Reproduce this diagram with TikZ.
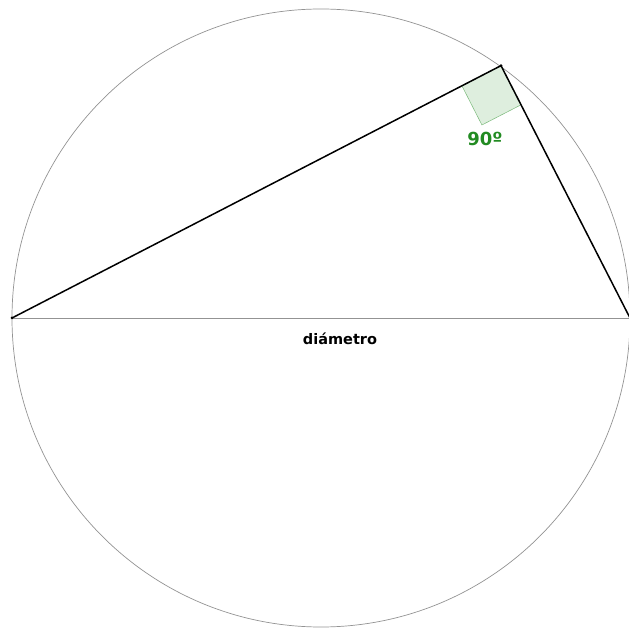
\documentclass[tikz,border=0pt]{standalone}
\usepackage{fontspec}
\setmainfont{DejaVu Sans}
\usetikzlibrary{calc}

\definecolor{anglegreen}{RGB}{34,139,34}

\begin{document}
\begin{tikzpicture}[x=1pt, y=1pt,
    thinline/.style={gray!85, line width=0.7pt},
    chord/.style={black, line width=1.5pt},
    labeltext/.style={font=\bfseries\fontsize{14.5}{17}\selectfont}]
        \useasboundingbox (0,0) rectangle (629,630);

        % Circle and diameter
        \coordinate (O) at (321,312);
        \coordinate (A) at ($(O)+(-309,0)$);
        \coordinate (B) at ($(O)+(309,0)$);
        \coordinate (C) at ($(O)+(54.5:310)$);
        \draw[thinline] (O) circle (309);
        \draw[thinline] (A) -- (B);

        % Right angle mark
        \coordinate (P) at ($(C)!44pt!(A)$);
        \coordinate (Q) at ($(C)!44pt!(B)$);
        \filldraw[fill=anglegreen!15, draw=anglegreen!60, line width=0.5pt]
            (C) -- (P) -- ($(P)+(Q)-(C)$) -- (Q) -- cycle;

        % Inscribed triangle
        \draw[chord, line join=round] (A) -- (C) -- (B);
        \fill[black] (A) circle (1.5);
        \fill[black] (C) circle (1.5);

        % Labels
        \node[labeltext] (diam) at (340,291) {diámetro};
        \node[labeltext, text=anglegreen, font=\bfseries\fontsize{18}{20}\selectfont] (ang) at (485,491) {90º};
    \end{tikzpicture}
\end{document}
